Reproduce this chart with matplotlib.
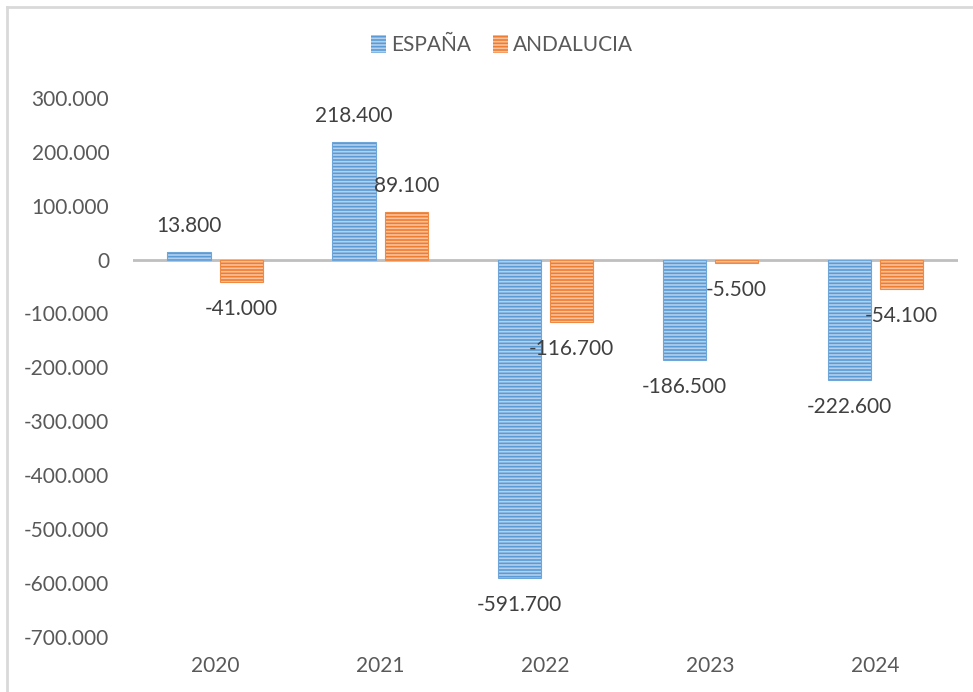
import matplotlib
matplotlib.use("Agg")
import matplotlib.pyplot as plt
from matplotlib.lines import Line2D
import numpy as np

plt.rcParams['hatch.linewidth'] = 1.2

years = ["2020", "2021", "2022", "2023", "2024"]
espana = [13800, 218400, -591700, -186500, -222600]
andalucia = [-41000, 89100, -116700, -5500, -54100]
series_names = ["ESPAÑA", "ANDALUCIA"]
yticks = list(range(-700000, 300001, 100000))

def fmt(v):
    s = f"{abs(int(v)):,}".replace(",", ".")
    return ("-" if v < 0 else "") + s

FONT = "Lato"
W, H = 973, 692
fig = plt.figure(figsize=(W / 100, H / 100), dpi=100)
ax = fig.add_axes([132.8 / W, (H - 636.7) / H, (958 - 132.8) / W, (636.7 - 98) / H])

x = np.arange(len(years))
bw = 0.262
off = 0.159
colors = [("#5B9BD5", "#B3D1EE", "#6FA6DA"), ("#ED7D31", "#F9C29C", "#EF8A45")]
for i, (vals, name) in enumerate(zip([espana, andalucia], series_names)):
    fc, hc, ec = colors[i]
    pos = x + (-off if i == 0 else off)
    ax.bar(pos, vals, bw, color=fc, edgecolor=hc, hatch="-----", linewidth=0,
           label=name, zorder=2)
    ax.bar(pos, vals, bw, facecolor="none", edgecolor=ec, linewidth=0.8, zorder=3)
    for px, v in zip(pos, vals):
        dy = 26 if v >= 0 else -27
        ax.annotate(fmt(v), xy=(px, v), xytext=(0, dy), textcoords="offset pixels",
                    ha="center", va="center", fontsize=15, family=FONT,
                    color="#404040", zorder=4)

ax.axhline(0, color="#BFBFBF", linewidth=2, zorder=1)
ax.set_xlim(-0.5, len(years) - 0.5)
ax.set_ylim(-700000, 300000)
ax.set_yticks(yticks)
ax.set_yticklabels([fmt(t) if t != 0 else "0" for t in yticks])
ax.set_xticks(x)
ax.set_xticklabels(years)
for sp in ax.spines.values():
    sp.set_visible(False)
ax.tick_params(axis="both", length=0, labelsize=15, labelcolor="#595959")
ax.tick_params(axis="y", pad=17)
ax.tick_params(axis="x", pad=14)
for lab in ax.get_xticklabels() + ax.get_yticklabels():
    lab.set_family(FONT)

leg = fig.legend(loc="center", bbox_to_anchor=(502 / W, 1 - 45 / H), ncol=2,
                 frameon=False, prop={"family": FONT, "size": 15},
                 handlelength=0.7, handleheight=0.95, handletextpad=0.25,
                 columnspacing=1.05, labelcolor="#595959")

fig.add_artist(Line2D([7 / W, 1], [1 - 7 / H, 1 - 7 / H], transform=fig.transFigure,
                      color="#D9D9D9", linewidth=2))
fig.add_artist(Line2D([7 / W, 7 / W], [0, 1 - 7 / H], transform=fig.transFigure,
                      color="#D9D9D9", linewidth=2))

fig.savefig("out.png", dpi=100)
